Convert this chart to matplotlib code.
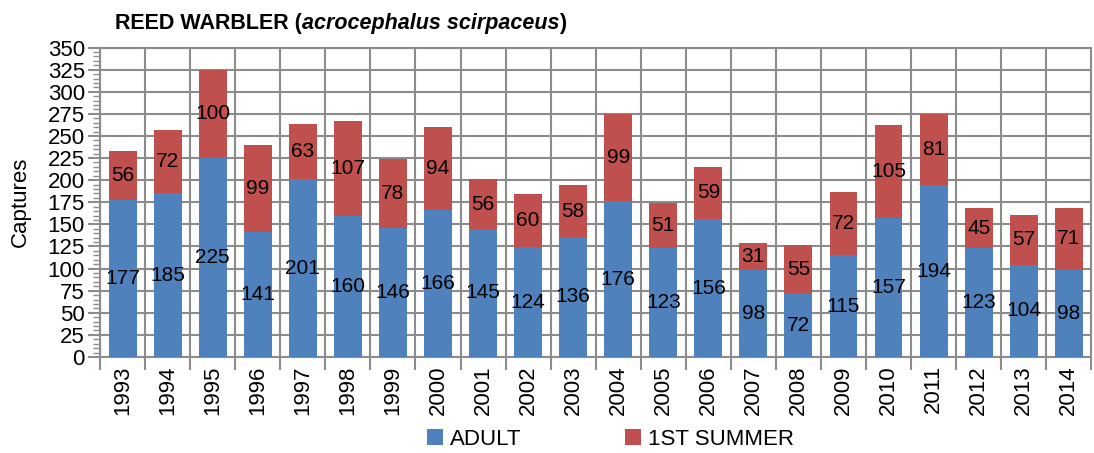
import matplotlib
matplotlib.use("Agg")
import matplotlib.pyplot as plt
from matplotlib.ticker import MultipleLocator
import numpy as np

plt.rcParams["font.family"] = ["Liberation Sans Narrow", "Liberation Sans", "DejaVu Sans"]

years = ["1993", "1994", "1995", "1996", "1997", "1998", "1999", "2000", "2001", "2002", "2003",
         "2004", "2005", "2006", "2007", "2008", "2009", "2010", "2011", "2012", "2013", "2014"]
adult = [177, 185, 225, 141, 201, 160, 146, 166, 145, 124, 136, 176, 123, 156, 98, 72, 115, 157, 194, 123, 104, 98]
first_summer = [56, 72, 100, 99, 63, 107, 78, 94, 56, 60, 58, 99, 51, 59, 31, 55, 72, 105, 81, 45, 57, 71]

BLUE = "#4F81BD"
RED = "#C0504D"
GRID = "#8C8C8C"

fig = plt.figure(figsize=(10.94, 4.53), dpi=100)
ax = fig.add_axes([0.0915, 0.212, 0.906, 0.683])

x = np.arange(len(years))
w = 0.62
b1 = ax.bar(x, adult, w, color=BLUE, zorder=3, label="ADULT")
b2 = ax.bar(x, first_summer, w, bottom=adult, color=RED, zorder=3, label="1ST SUMMER")

# labels in the middle of each segment
for xi, a, f in zip(x, adult, first_summer):
    ax.text(xi, a / 2, str(a), ha="center", va="center", fontsize=15, zorder=4)
    ax.text(xi, a + f / 2, str(f), ha="center", va="center", fontsize=15, zorder=4)

ax.set_xlim(-0.5, len(years) - 0.5)
ax.set_ylim(0, 350)
ax.yaxis.set_major_locator(MultipleLocator(25))
ax.yaxis.set_minor_locator(MultipleLocator(5))
ax.set_xticks(x)
ax.set_xticklabels(years, rotation=90, fontsize=16)
ax.set_xticks(np.arange(-0.5, len(years)), minor=True)
ax.tick_params(axis="x", which="major", length=0, pad=6)
ax.tick_params(axis="x", which="minor", length=9, width=1.5, color=GRID)
ax.tick_params(axis="y", which="major", length=9, width=1.5, color=GRID, labelsize=16, pad=2)
ax.tick_params(axis="y", which="minor", length=5, width=1, color=GRID)

ax.grid(axis="y", which="major", color=GRID, linewidth=1.5, zorder=0)
ax.grid(axis="x", which="minor", color=GRID, linewidth=1.5, zorder=0)
for s in ax.spines.values():
    s.set_color(GRID)
    s.set_linewidth(1.5)

ax.set_ylabel("Captures", fontsize=16, labelpad=12)

# title: bold with italic latin name
ty = 0.935
t1 = fig.text(0.105, ty, "REED WARBLER (", fontsize=15.5, fontweight="bold", ha="left", va="baseline")
fig.canvas.draw()
r = fig.canvas.get_renderer()
bb = t1.get_window_extent(r)
t2 = fig.text(bb.x1 / fig.bbox.width, ty, "acrocephalus scirpaceus", fontsize=15.5, fontweight="bold",
              style="italic", ha="left", va="baseline")
bb2 = t2.get_window_extent(r)
fig.text(bb2.x1 / fig.bbox.width, ty, ")", fontsize=15.5, fontweight="bold", ha="left", va="baseline")

fig.legend(handles=[b1, b2], loc="lower center", bbox_to_anchor=(0.558, -0.037), ncol=2,
           frameon=False, fontsize=16, handlelength=0.7, handleheight=0.7, handletextpad=0.3,
           columnspacing=4.7)

fig.savefig("out.png", dpi=100)
